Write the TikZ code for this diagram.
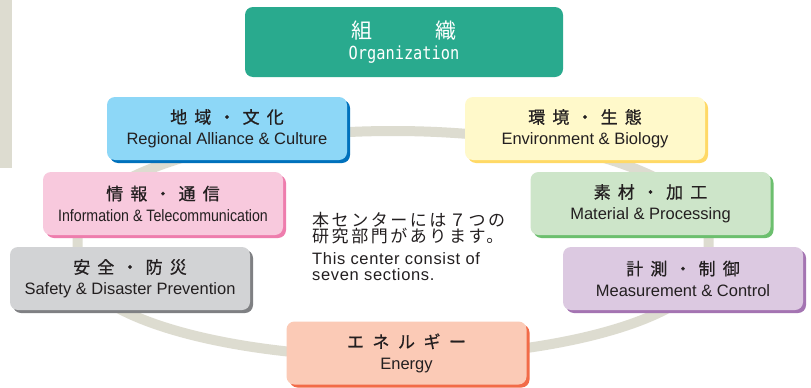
\documentclass[tikz,border=0pt]{standalone}
\usepackage{fontspec}
\usepackage{graphicx}
\setmainfont{Liberation Sans}
\newfontfamily\jp{Noto Sans CJK JP}
\newfontfamily\jph[FakeBold=0.8]{Noto Sans CJK JP}
\newfontfamily\orgfont[FakeStretch=0.85]{DejaVu Sans Mono}
\usetikzlibrary{shadows}

\definecolor{ink}{HTML}{231F20}
\definecolor{ringgray}{HTML}{DDDCD0}
\definecolor{orgteal}{HTML}{29AA8E}
\definecolor{regfill}{HTML}{8DD7F7}
\definecolor{regedge}{HTML}{0071BC}
\definecolor{envfill}{HTML}{FFF9CA}
\definecolor{envedge}{HTML}{FFD966}
\definecolor{inffill}{HTML}{F8C9DD}
\definecolor{infedge}{HTML}{EE7DAD}
\definecolor{matfill}{HTML}{CDE5C9}
\definecolor{matedge}{HTML}{6CBF6E}
\definecolor{saffill}{HTML}{D2D3D5}
\definecolor{safedge}{HTML}{7F8083}
\definecolor{meafill}{HTML}{DCC9E1}
\definecolor{meaedge}{HTML}{A474B2}
\definecolor{enefill}{HTML}{FBCAB6}
\definecolor{eneedge}{HTML}{F26B48}

\newcommand\jsp[1][0.42em]{\hspace{#1}}
\newcommand\jtitle[1]{{\jph\fontsize{17}{21}\selectfont #1}}

\begin{document}
\begin{tikzpicture}[x=1pt, y=-1pt,
    sect/.style={rounded corners=8pt, minimum width=240pt, minimum height=63pt,
        align=center, inner sep=0pt, text=ink, fill=#1,
        font=\fontsize{16.5}{21}\selectfont},
    under/.style={drop shadow={shadow xshift=3pt, shadow yshift=-3pt, opacity=1, fill=#1}}]
    \fill[white] (0,0) rectangle (811,388);
    \useasboundingbox (0,0) rectangle (811,388);

    \fill[ringgray] (0,0) rectangle (12,168);
    \draw[ringgray, line width=10pt] (77.5,236) arc[start angle=180, end angle=360, x radius=315.5, y radius=105]
        -- (708.5,261) arc[start angle=0, end angle=180, x radius=315.5, y radius=96] -- cycle;

    \node[sect=orgteal, minimum width=318pt, minimum height=70pt, text=white] (org) at (404,42)
        {{\jp\fontsize{21}{24}\selectfont 組\hspace{3em}織}\\[0pt]{\orgfont\fontsize{18}{20}\selectfont Organization}};

    \node[sect=regfill, under=regedge] (reg) at (227,128.5) {\jtitle{地\jsp 域\jsp ・\jsp 文\jsp 化}\\Regional Alliance \& Culture};
    \node[sect=envfill, under=envedge, right of=reg, node distance=358pt] (env) {\jtitle{環\jsp 境\jsp ・\jsp 生\jsp 態}\\Environment \& Biology};
    \node[sect=inffill, under=infedge] (inf) at (163,203.5) {\jtitle{情\jsp 報\jsp ・\jsp 通\jsp 信}\\\scalebox{0.86}[1]{Information \& Telecommunication}};
    \node[sect=matfill, under=matedge, right of=inf, node distance=487.5pt] (mat) {\jtitle{素\jsp 材\jsp ・\jsp 加\jsp 工}\\Material \& Processing};
    \node[sect=saffill, under=safedge] (saf) at (130,278.5) {\jtitle{安\jsp 全\jsp ・\jsp 防\jsp 災}\\Safety \& Disaster Prevention};
    \node[sect=meafill, under=meaedge, right of=saf, node distance=553pt] (mea) {\jtitle{計\jsp 測\jsp ・\jsp 制\jsp 御}\\Measurement \& Control};
    \node[sect=enefill, under=eneedge] (ene) at (406.5,353) {\jtitle{エ\jsp[0.5em]ネ\jsp[0.5em]ル\jsp[0.5em]ギ\jsp[0.5em]ー}\\Energy};

    \node[anchor=north west, inner sep=0pt, align=left, text=ink,
        font=\jp\fontsize{17}{16.5}\selectfont\addfontfeature{LetterSpace=15}] (note) at (312,212)
        {本センターには７つの\\研究部門があります。};
    \node[anchor=north west, inner sep=0pt, align=left, text=ink,
        font=\fontsize{16.5}{16.5}\selectfont\addfontfeature{LetterSpace=4}] (noteen) at (312,252)
        {This center consist of\\seven sections.};
\end{tikzpicture}
\end{document}
